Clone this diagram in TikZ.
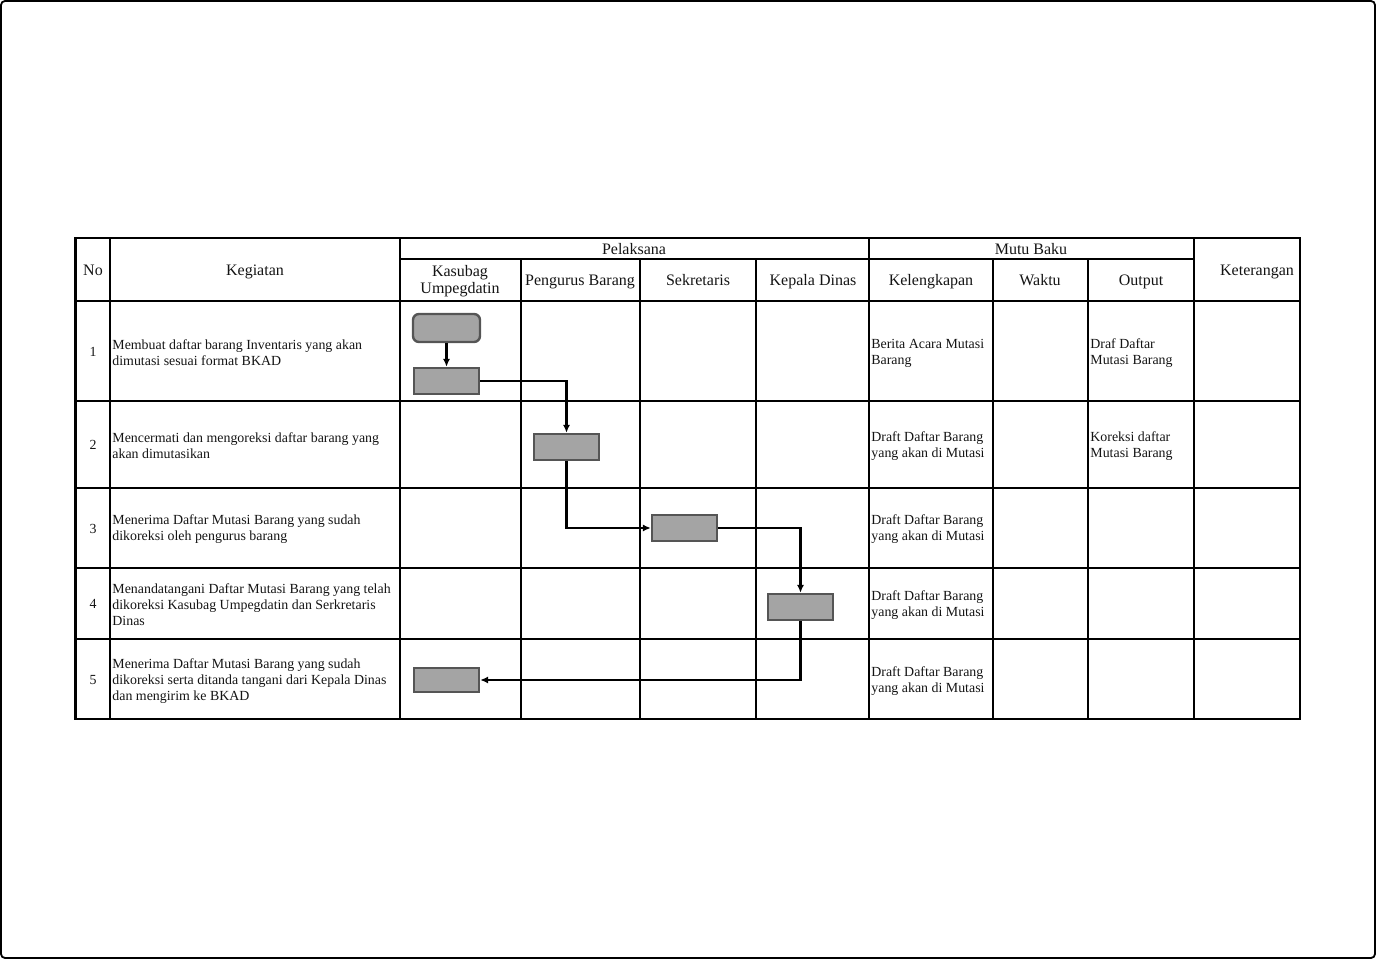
\documentclass[tikz,border=0pt]{standalone}
\usepackage{fontspec}
\setmainfont{Liberation Serif}
\usetikzlibrary{arrows.meta}
\definecolor{boxfill}{HTML}{A4A4A4}
\definecolor{boxline}{HTML}{555555}
\definecolor{txt}{HTML}{141414}
\begin{document}
\begin{tikzpicture}[x=0.5pt,y=-0.5pt,
  hdr/.style={font=\fontsize{8}{8.5}\selectfont, text=txt, inner sep=0pt, text height=5.6pt, text depth=0pt},
  hdrtwo/.style={font=\fontsize{8}{8.5}\selectfont, text=txt, inner sep=0pt, align=center},
  body/.style={font=\fontsize{6.95}{8}\selectfont, text=txt, inner sep=0pt, anchor=west, align=left},
  num/.style={font=\fontsize{6.95}{8}\selectfont, text=txt, inner sep=0pt},
  thin/.style={line width=0.55pt, black},
  thick/.style={line width=1.3pt, black},
  procbox/.style={draw=boxline, fill=boxfill, line width=1.2pt, minimum width=32.5pt, minimum height=13pt, inner sep=0pt},
  startbox/.style={procbox, rounded corners=3pt, minimum width=33.5pt, minimum height=14pt},
  flow/.style={line width=1.1pt, black, -{Latex[length=4pt,width=3.6pt]}}]
\useasboundingbox (0,0) rectangle (1376,961);
% outer frame
\draw[line width=0.9pt, rounded corners=2pt] (1,1) rectangle (1375,958);

% table thin lines
\foreach \x in {110,400,869,1194} \draw[thin] (\x,238) -- (\x,719);
\foreach \x in {521,640,756,993,1088} \draw[thin] (\x,259) -- (\x,719);
\draw[thin] (400,259) -- (1194,259);
\foreach \y in {401,488,568,639} \draw[thin] (75,\y) -- (1300,\y);
% thick lines
\draw[line width=1pt] (75,301) -- (1300,301);
\draw[thick] (75,238) rectangle (1300,719);
\draw[line width=1.6pt] (75.5,238) -- (75.5,719);

% headers (text height 5.6pt -> centre of cap height)
\node[hdr] (hno) at (93,270) {No};
\node[hdr] (hkeg) at (255,270) {Kegiatan};
\node[hdr] (hpel) at (634,249) {Pelaksana};
\node[hdr] (hmutu) at (1031,249) {Mutu Baku};
\node[hdr] (hket) at (1257,270) {Keterangan};
\node[hdrtwo] (hkas) at (460,281) {Kasubag\\Umpegdatin};
\node[hdr] (hpeng) at (580,280) {Pengurus Barang};
\node[hdr] (hsek) at (698,280) {Sekretaris};
\node[hdr] (hkep) at (813,280) {Kepala Dinas};
\node[hdr] (hkel) at (931,280) {Kelengkapan};
\node[hdr] (hwak) at (1040,280) {Waktu};
\node[hdr] (hout) at (1141,280) {Output};

% numbers
\node[num] (n1) at (93,352) {1};
\node[num] (n2) at (93,445) {2};
\node[num] (n3) at (93,529) {3};
\node[num] (n4) at (93,604) {4};
\node[num] (n5) at (93,680) {5};

% activities
\node[body] (k1) at (112,353) {Membuat daftar barang Inventaris yang akan\\dimutasi sesuai format BKAD};
\node[body] (k2) at (112,446) {Mencermati dan mengoreksi daftar barang yang\\akan dimutasikan};
\node[body] (k3) at (112,529) {Menerima Daftar Mutasi Barang yang sudah\\dikoreksi oleh pengurus barang};
\node[body] (k4) at (112,605) {Menandatangani Daftar Mutasi Barang yang telah\\dikoreksi Kasubag Umpegdatin dan Serkretaris\\Dinas};
\node[body] (k5) at (112,681) {Menerima Daftar Mutasi Barang yang sudah\\dikoreksi serta ditanda tangani dari Kepala Dinas\\dan mengirim ke BKAD};

% kelengkapan
\node[body] (l1) at (871,353) {Berita Acara Mutasi\\Barang};
\node[body] (l2) at (871,446) {Draft Daftar Barang\\yang akan di Mutasi};
\node[body] (l3) at (871,529) {Draft Daftar Barang\\yang akan di Mutasi};
\node[body] (l4) at (871,605) {Draft Daftar Barang\\yang akan di Mutasi};
\node[body] (l5) at (871,681) {Draft Daftar Barang\\yang akan di Mutasi};

% output
\node[body] (o1) at (1090,353) {Draf Daftar\\Mutasi Barang};
\node[body] (o2) at (1090,446) {Koreksi daftar\\Mutasi Barang};

% flow shapes
\node[startbox] (s0) at (446.5,328) {};
\node[procbox] (b1) at (446.5,381) {};
\node[procbox] (b2) at (566.5,447) {};
\node[procbox] (b3) at (684.5,528) {};
\node[procbox] (b4) at (800.5,607) {};
\node[procbox, minimum height=12pt] (b5) at (446.5,680) {};

% connectors
\draw[flow] (s0) -- (b1);
\draw[flow] (b1.east) -| (b2.north);
\draw[flow] (b2.south) |- (b3.west);
\draw[flow] (b3.east) -| (b4.north);
\draw[flow] (b4.south) |- (b5.east);
\end{tikzpicture}
\end{document}
